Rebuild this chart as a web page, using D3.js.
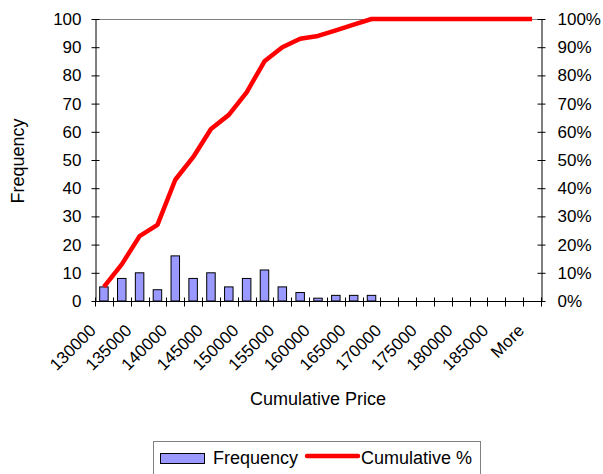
<!DOCTYPE html>
<html>
<head>
<meta charset="utf-8">
<script src="https://cdn.jsdelivr.net/npm/d3@7/dist/d3.min.js"></script>
<style>
  html, body { margin: 0; padding: 0; background: #fff; }
  svg { display: block; font-family: "Liberation Sans", Arial, sans-serif; }
</style>
</head>
<body>
<svg id="chart" width="603" height="474"></svg>
<script>
// Price bins (upper bounds) for the histogram, plus the overflow bin
const categories = ["130000","132500","135000","137500","140000","142500","145000","147500",
  "150000","152500","155000","157500","160000","162500","165000","167500","170000",
  "172500","175000","177500","180000","182500","185000","187500","More"];
// Count of observations per bin
const frequency = [5,8,10,4,16,8,10,5,8,11,5,3,1,2,2,2,0,0,0,0,0,0,0,0,0];
// Running cumulative share, in percent
const cumulativePct = [5,13,23,27,43,51,61,66,74,85,90,93,94,96,98,100,100,100,100,100,100,100,100,100,100];
// Axis ticks
const freqTicks = [0,10,20,30,40,50,60,70,80,90,100];
const pctTicks = [0,10,20,30,40,50,60,70,80,90,100];

const svg = d3.select("#chart");
const plotL = 95, plotR = 541, plotT = 19, plotB = 301;

const x = d3.scaleBand().domain(categories).range([plotL, plotR]).padding(0);
const yFreq = d3.scaleLinear().domain([0, 100]).range([plotB, plotT]);
const yPct = d3.scaleLinear().domain([0, 100]).range([plotB, plotT]);

// plot-area top edge
svg.append("line")
  .attr("x1", plotL).attr("x2", plotR).attr("y1", plotT + 0.5).attr("y2", plotT + 0.5)
  .attr("stroke", "#808080").attr("stroke-width", 1);

// histogram bars
const barW = x.bandwidth() / 2.1;
svg.append("g").selectAll("rect")
  .data(categories.map((c, i) => ({ c, v: frequency[i] })).filter(d => d.v > 0))
  .join("rect")
  .attr("x", d => x(d.c) + (x.bandwidth() - barW) / 2)
  .attr("y", d => yFreq(d.v))
  .attr("width", barW)
  .attr("height", d => yFreq(0) - yFreq(d.v))
  .attr("fill", "#9999ff")
  .attr("stroke", "#000")
  .attr("stroke-width", 1);

// cumulative percentage line
const line = d3.line()
  .x((d, i) => x(categories[i]) + x.bandwidth() / 2)
  .y(d => yPct(d));
svg.append("path")
  .datum(cumulativePct)
  .attr("d", line)
  .attr("fill", "none")
  .attr("stroke", "#ff0000")
  .attr("stroke-width", 4.5)
  .attr("stroke-linejoin", "round");

// left axis (Frequency)
const gL = svg.append("g").attr("transform", `translate(${plotL + 0.5},0)`);
gL.call(d3.axisLeft(yFreq).tickValues(freqTicks).tickSize(0).tickFormat(d3.format("d")));
gL.select(".domain").attr("stroke", "#000");
gL.selectAll(".tick").append("line").attr("x1", -4).attr("x2", 4).attr("stroke", "#000");
gL.selectAll(".tick text").attr("x", -14).attr("font-size", 17).attr("fill", "#000")
  .attr("font-family", "Liberation Sans, Arial, sans-serif");

// right axis (Cumulative %)
const gR = svg.append("g").attr("transform", `translate(${plotR + 0.5},0)`);
gR.call(d3.axisRight(yPct).tickValues(pctTicks).tickSize(0).tickFormat(d => d + "%"));
gR.select(".domain").attr("stroke", "#000");
gR.selectAll(".tick").append("line").attr("x1", -4).attr("x2", 4).attr("stroke", "#000");
gR.selectAll(".tick text").attr("x", 16).attr("font-size", 17).attr("fill", "#000")
  .attr("font-family", "Liberation Sans, Arial, sans-serif");

// bottom category axis: ticks on bin boundaries, every other label
const gB = svg.append("g").attr("transform", `translate(0,${plotB + 0.5})`);
gB.append("line").attr("x1", plotL).attr("x2", plotR).attr("stroke", "#000");
gB.selectAll("line.tk")
  .data(d3.range(categories.length + 1))
  .join("line").attr("class", "tk")
  .attr("x1", i => Math.round(plotL + i * x.step()) + 0.5)
  .attr("x2", i => Math.round(plotL + i * x.step()) + 0.5)
  .attr("y1", -4).attr("y2", 5)
  .attr("stroke", "#000");
gB.selectAll("text")
  .data(categories.filter((c, i) => i % 2 === 0))
  .join("text")
  .attr("transform", d => `translate(${x(d) + x.bandwidth() / 2 - 7},${30}) rotate(-45)`)
  .attr("text-anchor", "end")
  .attr("font-size", 17)
  .attr("fill", "#000")
  .text(d => d);

// axis titles
svg.append("text")
  .attr("transform", "translate(24,161) rotate(-90)")
  .attr("text-anchor", "middle")
  .attr("font-size", 18)
  .text("Frequency");
svg.append("text")
  .attr("x", 318).attr("y", 405)
  .attr("text-anchor", "middle")
  .attr("font-size", 18)
  .text("Cumulative Price");

// legend
const lg = svg.append("g");
lg.append("rect").attr("x", 153.5).attr("y", 441.5).attr("width", 327).attr("height", 40)
  .attr("fill", "#fff").attr("stroke", "#808080");
lg.append("rect").attr("x", 160.5).attr("y", 453.5).attr("width", 44).attr("height", 10)
  .attr("fill", "#9999ff").attr("stroke", "#000");
lg.append("text").attr("x", 213).attr("y", 463.5).attr("font-size", 18).text("Frequency");
lg.append("line").attr("x1", 307).attr("x2", 358).attr("y1", 456).attr("y2", 456)
  .attr("stroke", "#ff0000").attr("stroke-width", 4.5).attr("stroke-linecap", "round");
lg.append("text").attr("x", 361).attr("y", 463.5).attr("font-size", 18).text("Cumulative %");
</script>
</body>
</html>
